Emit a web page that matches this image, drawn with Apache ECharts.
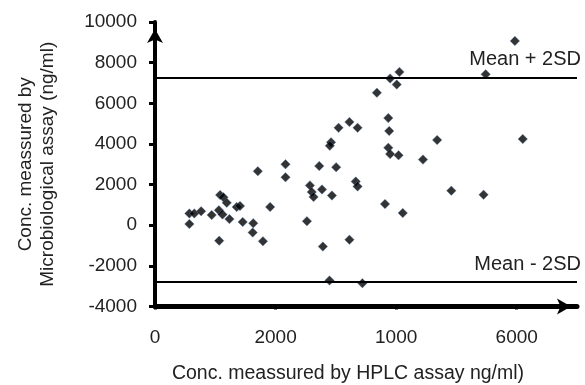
<!DOCTYPE html>
<html>
<head>
<meta charset="utf-8">
<script src="https://cdn.jsdelivr.net/npm/echarts@6.0.0/dist/echarts.min.js"></script>
<style>
  html, body { margin: 0; padding: 0; background: #fff; }
  #main { width: 585px; height: 385px; }
</style>
</head>
<body>
<div id="main"></div>
<script>
// HPLC assay (x) values
var hplcVals = [570, 570, 652, 765, 940, 1060, 1120, 1080, 1135, 1190,
	1235, 1065, 1355, 1410, 1455, 1630, 1620, 1790, 1910, 1705,
	2165, 2165, 2520, 2570, 2600, 2630, 2770, 2935, 2785, 2895,
	3225, 2725, 3005, 2920, 2900, 3045, 3225, 3360, 3330, 3360,
	3680, 3900, 4055, 4010, 3870, 3885, 3870, 3900, 4040, 4445,
	4680, 5485, 5970, 6100, 3815, 4110, 4915, 5450, 3440];
// microbiological assay (y) values
var microVals = [60, 580, 580, 690, 500, 740, 530, 1490, 1370, 1100,
	300, -760, 900, 950, 160, 100, -360, -790, 900, 2660,
	3000, 2360, 200, 1960, 1630, 1390, 1760, 1460, -1050, -2720,
	-710, 2910, 2855, 4080, 3910, 4790, 5080, 4790, 2150, 1910,
	6520, 7220, 7540, 6920, 5270, 4640, 3810, 3500, 3440, 3230,
	4190, 7425, 9070, 4240, 1040, 600, 1700, 1500, -2850];

// mean +/- 2SD limits
var upperLimit = 7250;
var lowerLimit = -2800;

// x axis ticks and the labels printed under them
var xTickValues = [0, 2000, 4000, 6000];
var xTickLabels = ['0', '2000', '1000', '6000'];

var points = [];
for (var i = 0; i < hplcVals.length; i++) {
	points.push([hplcVals[i], microVals[i]]);
}

var chart = echarts.init(document.getElementById('main'));
var font = 'Liberation Sans, Arial, sans-serif';
var textColor = '#222';

var option = {
	animation: false,
	grid: {
		left: 155,
		right: 8,
		top: 22,
		bottom: 78.5,
		containLabel: false,
		outerBoundsMode: 'none'
	},
	xAxis: {
		type: 'value',
		min: 0,
		max: 7000,
		interval: 2000,
		name: 'Conc. meassured by HPLC assay ng/ml)',
		nameLocation: 'middle',
		nameGap: 57,
		nameTextStyle: {
			fontFamily: font,
			fontSize: 19.5,
			color: textColor,
			padding: [0, 36, 0, 0]
		},
		axisLine: {
			show: true,
			onZero: false,
			symbol: ['none', 'arrow'],
			symbolSize: [12, 14],
			symbolOffset: [0, -6],
			lineStyle: { color: '#000', width: 5 }
		},
		axisTick: {
			show: true,
			inside: false,
			length: 3,
			customValues: xTickValues,
			lineStyle: { color: '#000', width: 3 }
		},
		axisLabel: {
			margin: 22,
			fontFamily: font,
			fontSize: 19,
			color: textColor,
			customValues: xTickValues,
			formatter: function (val) {
				var idx = xTickValues.indexOf(val);
				return idx >= 0 ? xTickLabels[idx] : '';
			}
		},
		splitLine: { show: false }
	},
	yAxis: {
		type: 'value',
		min: -4000,
		max: 10000,
		interval: 2000,
		name: 'Conc. meassured by\nMicrobiological assay (ng/ml)',
		nameLocation: 'middle',
		nameGap: 96,
		nameRotate: 90,
		nameTextStyle: {
			fontFamily: font,
			fontSize: 19,
			lineHeight: 22,
			color: textColor
		},
		axisLine: {
			show: true,
			onZero: false,
			symbol: ['none', 'arrow'],
			symbolSize: [12, 14],
			symbolOffset: [0, -7],
			lineStyle: { color: '#000', width: 4 }
		},
		axisTick: {
			show: true,
			inside: false,
			length: 6,
			lineStyle: { color: '#000', width: 3 }
		},
		axisLabel: {
			margin: 18,
			fontFamily: font,
			fontSize: 19,
			color: textColor,
			formatter: function (val) {
				return String(val);
			}
		},
		splitLine: { show: false }
	},
	series: [
		{
			type: 'scatter',
			symbol: 'diamond',
			symbolSize: 9.5,
			itemStyle: {
				color: '#000',
				borderColor: 'rgba(90,130,180,0.6)',
				borderWidth: 0.8
			},
			data: points,
			markLine: {
				silent: true,
				symbol: ['none', 'none'],
				lineStyle: { color: '#000', width: 2, type: 'solid' },
				label: {
					show: true,
					position: 'insideEndTop',
					distance: 8,
					offset: [12, 0],
					fontFamily: font,
					fontSize: 20,
					color: textColor
				},
				data: [
					{ yAxis: upperLimit, label: { formatter: 'Mean + 2SD' } },
					{ yAxis: lowerLimit, label: { formatter: 'Mean - 2SD' } }
				]
			}
		}
	]
};

chart.setOption(option);
</script>
</body>
</html>
